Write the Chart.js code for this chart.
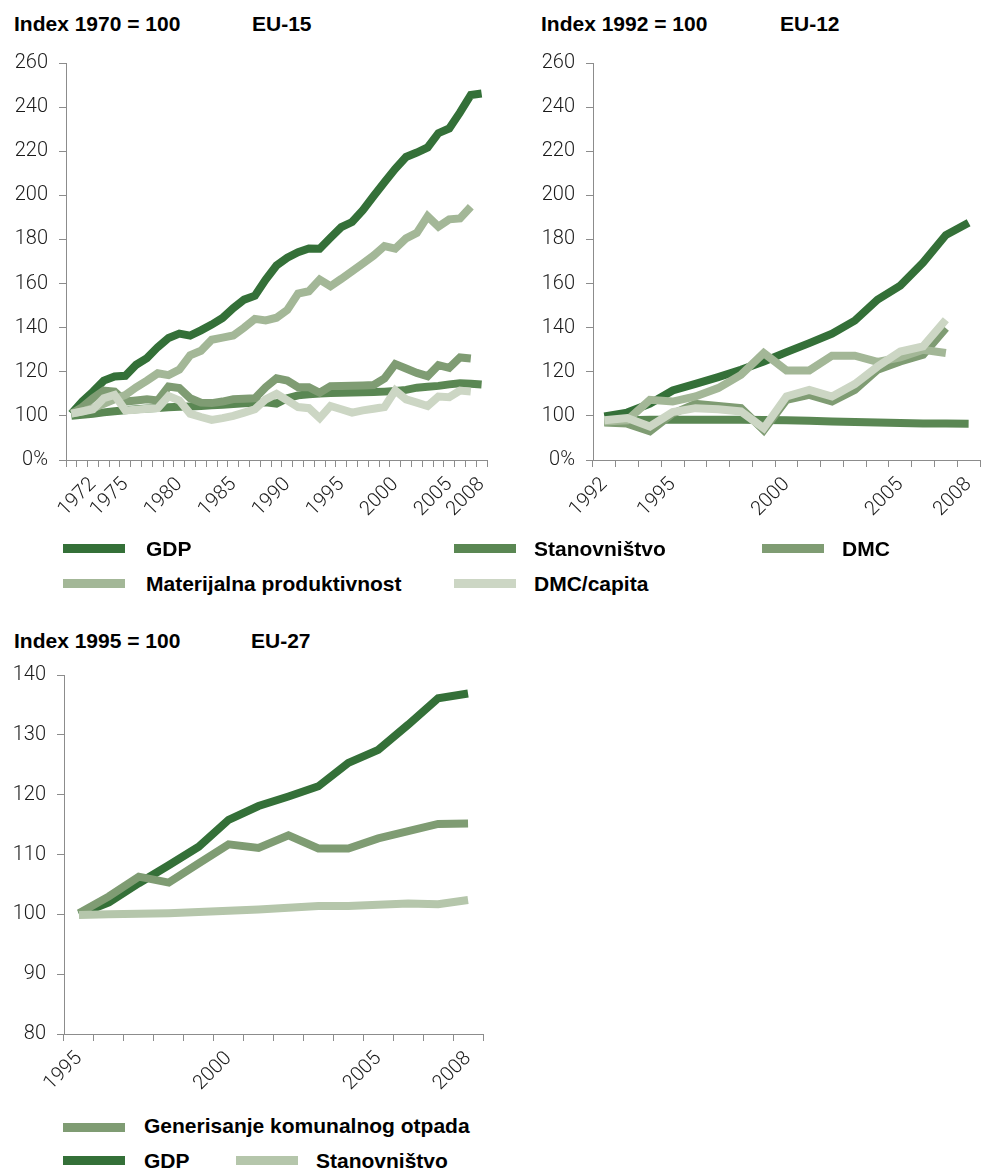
<!DOCTYPE html>
<html>
<head>
<meta charset="utf-8">
<script src="https://cdn.jsdelivr.net/npm/chart.js@4.4.1/dist/chart.umd.min.js"></script>
<style>
  body { margin: 0; background: #fff; width: 981px; height: 1169px; position: relative; overflow: hidden;
         font-family: "Liberation Sans", Arial, sans-serif; }
  canvas { position: absolute; }
  .txt { position: absolute; font-weight: bold; font-size: 21px; line-height: 21px; color: #000; white-space: nowrap; }
  .sw { position: absolute; width: 62px; height: 9px; }
</style>
</head>
<body>

<div class="txt" style="left:14px;top:13px">Index 1970 = 100</div>
<div class="txt" style="left:252px;top:13px">EU-15</div>
<div class="txt" style="left:541px;top:13px">Index 1992 = 100</div>
<div class="txt" style="left:780px;top:13px">EU-12</div>
<div class="txt" style="left:14px;top:630px">Index 1995 = 100</div>
<div class="txt" style="left:251px;top:630px">EU-27</div>

<canvas id="c1" width="500" height="540" style="left:0;top:0"></canvas>
<canvas id="c2" width="461" height="540" style="left:520px;top:0"></canvas>
<canvas id="c3" width="500" height="500" style="left:0;top:600px"></canvas>

<!-- legend, top charts -->
<div class="sw" style="left:63px;top:544px;background:#347038"></div>
<div class="txt" style="left:146px;top:538px">GDP</div>
<div class="sw" style="left:454px;top:544px;background:#5a8753"></div>
<div class="txt" style="left:534px;top:538px">Stanovništvo</div>
<div class="sw" style="left:762px;top:544px;background:#7f9c73"></div>
<div class="txt" style="left:842px;top:538px">DMC</div>
<div class="sw" style="left:63px;top:579px;background:#a3b797"></div>
<div class="txt" style="left:146px;top:573px">Materijalna produktivnost</div>
<div class="sw" style="left:454px;top:579px;background:#ccd6c4"></div>
<div class="txt" style="left:534px;top:573px">DMC/capita</div>

<!-- legend, bottom chart -->
<div class="sw" style="left:63px;top:1123px;background:#7f9c73"></div>
<div class="txt" style="left:144px;top:1115px">Generisanje komunalnog otpada</div>
<div class="sw" style="left:63px;top:1156px;background:#347038"></div>
<div class="txt" style="left:144px;top:1150px">GDP</div>
<div class="sw" style="left:236px;top:1156px;background:#b5c6ab"></div>
<div class="txt" style="left:316px;top:1150px">Stanovništvo</div>

<script>
// EU-15, index 1970 = 100
const years15 = [1970, 1971, 1972, 1973, 1974, 1975, 1976, 1977, 1978, 1979,
  1980, 1981, 1982, 1983, 1984, 1985, 1986, 1987, 1988, 1989,
  1990, 1991, 1992, 1993, 1994, 1995, 1996, 1997, 1998, 1999,
  2000, 2001, 2002, 2003, 2004, 2005, 2006, 2007, 2008];
const shown15 = [1972, 1975, 1980, 1985, 1990, 1995, 2000, 2005, 2008];
const gdp15 = [101, 106.5, 111, 116, 117.9, 118.2, 123.2, 126.2, 131.2, 135.3,
  137.3, 136.4, 138.8, 141.4, 144.4, 148.9, 152.7, 154.5, 161.8, 168.2,
  171.7, 174.2, 175.9, 175.8, 180.8, 185.6, 187.9, 193.3, 199.7, 205.9,
  212, 217.4, 219.4, 221.7, 228.2, 230.3, 237.6, 245.5, 246.2];
const pop15 = [100, 100.5, 101, 101.6, 102.1, 102.6, 103, 103.3, 103.6, 103.9,
  104.1, 104.3, 104.5, 104.8, 105.1, 105.4, 105.7, 106, 106.2, 105.6,
  108, 109.3, 109.8, 110.2, 110.4, 110.5, 110.6, 110.7, 110.8, 111,
  111.3, 111.8, 112.8, 113.2, 113.6, 114.3, 114.8, 114.6, 114.2];
const dmc15 = [101, 104, 108, 111.5, 111, 106.5, 107, 107.5, 107, 113.3,
  112.6, 108, 106, 105.8, 106.5, 107.6, 107.8, 108, 113, 117,
  116, 113, 113, 110.5, 113.5, 113.6, 113.7, 113.8, 114, 117,
  123.5, 121.5, 119.5, 118, 123, 121.8, 126.5, 126, null];
const mp15 = [101, 102, 103.5, 105.5, 107.5, 109.5, 113, 116, 119.3, 118.5,
  121, 127.5, 129.5, 134.5, 135.5, 136.5, 140, 144, 143.3, 144.5,
  148, 155.5, 156.5, 161.8, 158.8, 162.1, 165.6, 169.1, 172.7, 177,
  175.8, 180.5, 183, 190.5, 185.8, 189.1, 189.5, 194.8, null];
const dmcCap15 = [101, 102, 103, 108, 109.5, 102.5, 102.8, 103.2, 103.5, 109,
  107, 101, 99.5, 98.2, 99, 100, 101.5, 103, 107.5, 110,
  107, 104, 103.5, 99, 104.5, 103, 101.5, 102.5, 103.2, 104,
  111.5, 107.5, 106, 104.5, 108.8, 108.5, 111.5, 111, null];

// EU-12, index 1992 = 100
const years12 = [1992, 1993, 1994, 1995, 1996, 1997, 1998, 1999, 2000,
  2001, 2002, 2003, 2004, 2005, 2006, 2007, 2008];
const shown12 = [1992, 1995, 2000, 2005, 2008];
const gdp12 = [99.7, 101.5, 105.5, 111.5, 114.5, 117.6, 120.9, 124.7, 128.9,
  133, 137.3, 143.2, 152.7, 159.1, 169.5, 182, 187.6];
const pop12 = [97.3, 98, 98.2, 98.2, 98.2, 98.2, 98.2, 98.1, 98,
  97.8, 97.5, 97.2, 97, 96.8, 96.6, 96.5, 96.4];
const dmc12 = [97, 96.5, 93, 101, 105.5, 104.5, 103.5, 93.5, 107.3,
  109.5, 106.5, 111.8, 120.9, 124.7, 127.7, 139.8, null];
const mp12 = [97.4, 98, 107.3, 106.5, 108.8, 112.6, 118.6, 128.5, 120.6,
  120.6, 127.3, 127.3, 124.5, 126.5, 130, 128.5, null];
const dmcCap12 = [98, 99, 95.2, 101.7, 103.5, 103, 102, 94.4, 108.8,
  111.8, 108.8, 114.4, 122.4, 129.2, 131.5, 143.6, null];

// EU-27, index 1995 = 100
const years27 = [1995, 1996, 1997, 1998, 1999, 2000, 2001, 2002, 2003,
  2004, 2005, 2006, 2007, 2008];
const shown27 = [1995, 2000, 2005, 2008];
const gdp27 = [100, 102, 105.2, 108.2, 111.3, 115.8, 118.1, 119.7, 121.4,
  125.3, 127.5, 131.7, 136.1, 136.9];
const waste27 = [100.2, 103, 106.3, 105.3, 108.5, 111.7, 111.1, 113.2, 111,
  111, 112.7, 113.9, 115.1, 115.2];
const pop27 = [99.9, 100, 100.1, 100.2, 100.4, 100.6, 100.8, 101.1, 101.4,
  101.4, 101.6, 101.8, 101.7, 102.4];

const axisColor = "#8c8c8c";
const tickFont = { family: "Roboto", weight: "300" };

function line(data, color) {
  return { data: data, borderColor: color, borderWidth: 8, pointRadius: 0, tension: 0,
    fill: false, borderCapStyle: "butt", borderJoinStyle: "miter" };
}

function makeChart(id, labels, shown, datasets, yCfg, box) {
  new Chart(document.getElementById(id), {
    type: "line",
    data: { labels: labels, datasets: datasets },
    options: {
      responsive: false,
      animation: false,
      devicePixelRatio: 1,
      layout: { padding: { top: box.top, right: box.right, left: 0, bottom: 0 } },
      plugins: { legend: { display: false }, tooltip: { enabled: false } },
      scales: {
        x: {
          offset: true,
          grid: { offset: true, drawOnChartArea: false, tickLength: 7, color: axisColor },
          border: { color: axisColor },
          ticks: {
            autoSkip: false, maxRotation: 45, minRotation: 45, padding: 6,
            color: "#1a1a1a", font: { ...tickFont, size: 20 },
            callback: function (value) {
              const lab = this.getLabelForValue(value);
              return shown.includes(lab) ? String(lab) : "";
            },
          },
          afterFit: (s) => { s.height = box.xh; s.paddingLeft = 0; s.paddingRight = 0; },
        },
        y: {
          min: yCfg.min, max: yCfg.max,
          grid: { drawOnChartArea: false, tickLength: 7, color: axisColor },
          border: { color: axisColor },
          ticks: {
            stepSize: yCfg.step, padding: 11, color: "#1a1a1a", font: { ...tickFont, size: 20 },
            callback: (v) => (yCfg.zero && v === yCfg.min ? "0%" : v),
          },
          afterFit: (s) => { s.width = box.yw; s.paddingTop = 0; s.paddingBottom = 0; },
        },
      },
    },
  });
}

// first dataset is drawn on top
makeChart("c1", years15, shown15, [
  line(dmcCap15, "#ccd6c4"),
  line(mp15, "#a3b797"),
  line(dmc15, "#7f9c73"),
  line(gdp15, "#347038"),
  line(pop15, "#5a8753"),
], { min: 80, max: 260, step: 20, zero: true }, { top: 63, right: 13, yw: 66, xh: 80 });

makeChart("c2", years12, shown12, [
  line(dmcCap12, "#ccd6c4"),
  line(mp12, "#a3b797"),
  line(dmc12, "#7f9c73"),
  line(gdp12, "#347038"),
  line(pop12, "#5a8753"),
], { min: 80, max: 260, step: 20, zero: true }, { top: 63, right: 1, yw: 73, xh: 80 });

makeChart("c3", years27, shown27, [
  line(pop27, "#b5c6ab"),
  line(waste27, "#7f9c73"),
  line(gdp27, "#347038"),
], { min: 80, max: 140, step: 10, zero: false }, { top: 75, right: 17, yw: 64, xh: 66 });
</script>
</body>
</html>
